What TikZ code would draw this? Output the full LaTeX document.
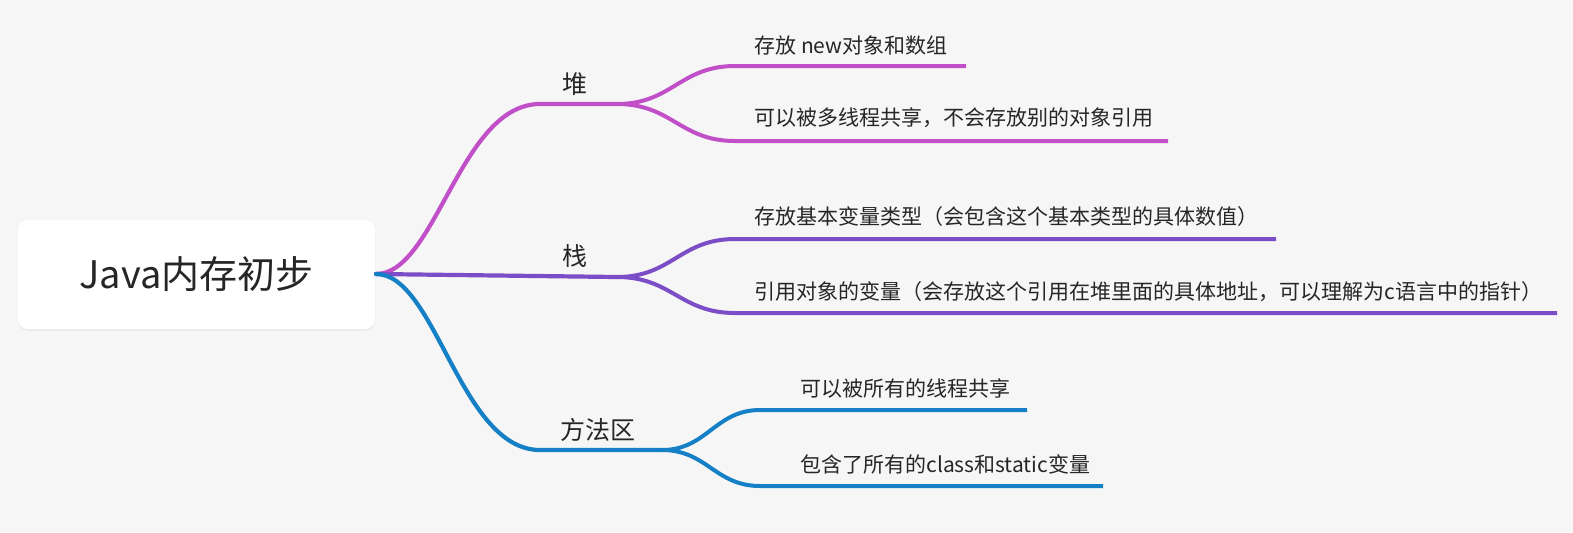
\documentclass[tikz,border=0pt]{standalone}
\usepackage{fontspec}
\setmainfont{Noto Sans CJK SC}
\usetikzlibrary{shadows}
\definecolor{bgc}{HTML}{F6F6F6}
\definecolor{txt}{HTML}{262626}
\definecolor{heapc}{HTML}{C14FC8}
\definecolor{stackc}{HTML}{7B4EC7}
\definecolor{methc}{HTML}{1580C6}
\begin{document}
\begin{tikzpicture}[x=0.5pt,y=-0.5pt,
  rootbox/.style={fill=white, rounded corners=5pt, minimum width=178.5pt, minimum height=54.5pt,
    drop shadow={shadow xshift=0pt, shadow yshift=-1pt, opacity=0.08}, text=txt,
    font=\fontsize{19}{22}\selectfont},
  lbl/.style={anchor=west, inner sep=0pt, text=txt, font=\fontsize{12.5}{15}\selectfont},
  leaf/.style={anchor=west, inner sep=0pt, text=txt, font=\fontsize{10.5}{13}\selectfont},
  br/.style={line width=2.1pt, line cap=round},
  tw/.style={line width=2pt}]
  \fill[bgc] (0,0) rectangle (1573,532);
  \useasboundingbox (0,0) rectangle (1573,532);

  \node[rootbox] (root) at (196.5,274.5) {Java内存初步};
  \coordinate (r) at (376,274);

  % branches
  \node[lbl] (heap) at (562,84) {堆};
  \node[lbl] (stack) at (562,256) {栈};
  \node[lbl] (meth) at (560,430) {方法区};
  \coordinate (h0) at (540,104);  \coordinate (h) at (617,104);
  \coordinate (s) at (617,277);
  \coordinate (m0) at (540,450);  \coordinate (m) at (662,450);
  \draw[br, heapc] (r) .. controls +(60,0) and +(-80,0) .. (h0) -- (h);
  \draw[br, stackc] (r) -- (s);
  \draw[br, methc] (r) .. controls +(60,0) and +(-80,0) .. (m0) -- (m);

  % leaves
  \node[leaf] (h1t) at (754,45) {存放 new对象和数组};
  \node[leaf] (h2t) at (754,118) {可以被多线程共享，不会存放别的对象引用};
  \node[leaf] (s1t) at (754,217) {存放基本变量类型（会包含这个基本类型的具体数值）};
  \node[leaf] (s2t) at (754,292) {引用对象的变量（会存放这个引用在堆里面的具体地址，可以理解为c语言中的指针）};
  \node[leaf] (m1t) at (800,388) {可以被所有的线程共享};
  \node[leaf] (m2t) at (800,464) {包含了所有的class和static变量};
  \coordinate (h1) at (735,66);  \coordinate (h1e) at (966,66);
  \coordinate (h2) at (735,141); \coordinate (h2e) at (1168,141);
  \coordinate (s1) at (735,239); \coordinate (s1e) at (1276,239);
  \coordinate (s2) at (735,313); \coordinate (s2e) at (1557,313);
  \coordinate (m1) at (760,410); \coordinate (m1e) at (1027,410);
  \coordinate (m2) at (760,486); \coordinate (m2e) at (1103,486);
  \draw[tw, heapc] (h) .. controls +(55,0) and +(-55,0) .. (h1) -- (h1e);
  \draw[tw, heapc] (h) .. controls +(55,0) and +(-55,0) .. (h2) -- (h2e);
  \draw[tw, stackc] (s) .. controls +(55,0) and +(-55,0) .. (s1) -- (s1e);
  \draw[tw, stackc] (s) .. controls +(55,0) and +(-55,0) .. (s2) -- (s2e);
  \draw[tw, methc] (m) .. controls +(45,0) and +(-45,0) .. (m1) -- (m1e);
  \draw[tw, methc] (m) .. controls +(45,0) and +(-45,0) .. (m2) -- (m2e);
\end{tikzpicture}
\end{document}
